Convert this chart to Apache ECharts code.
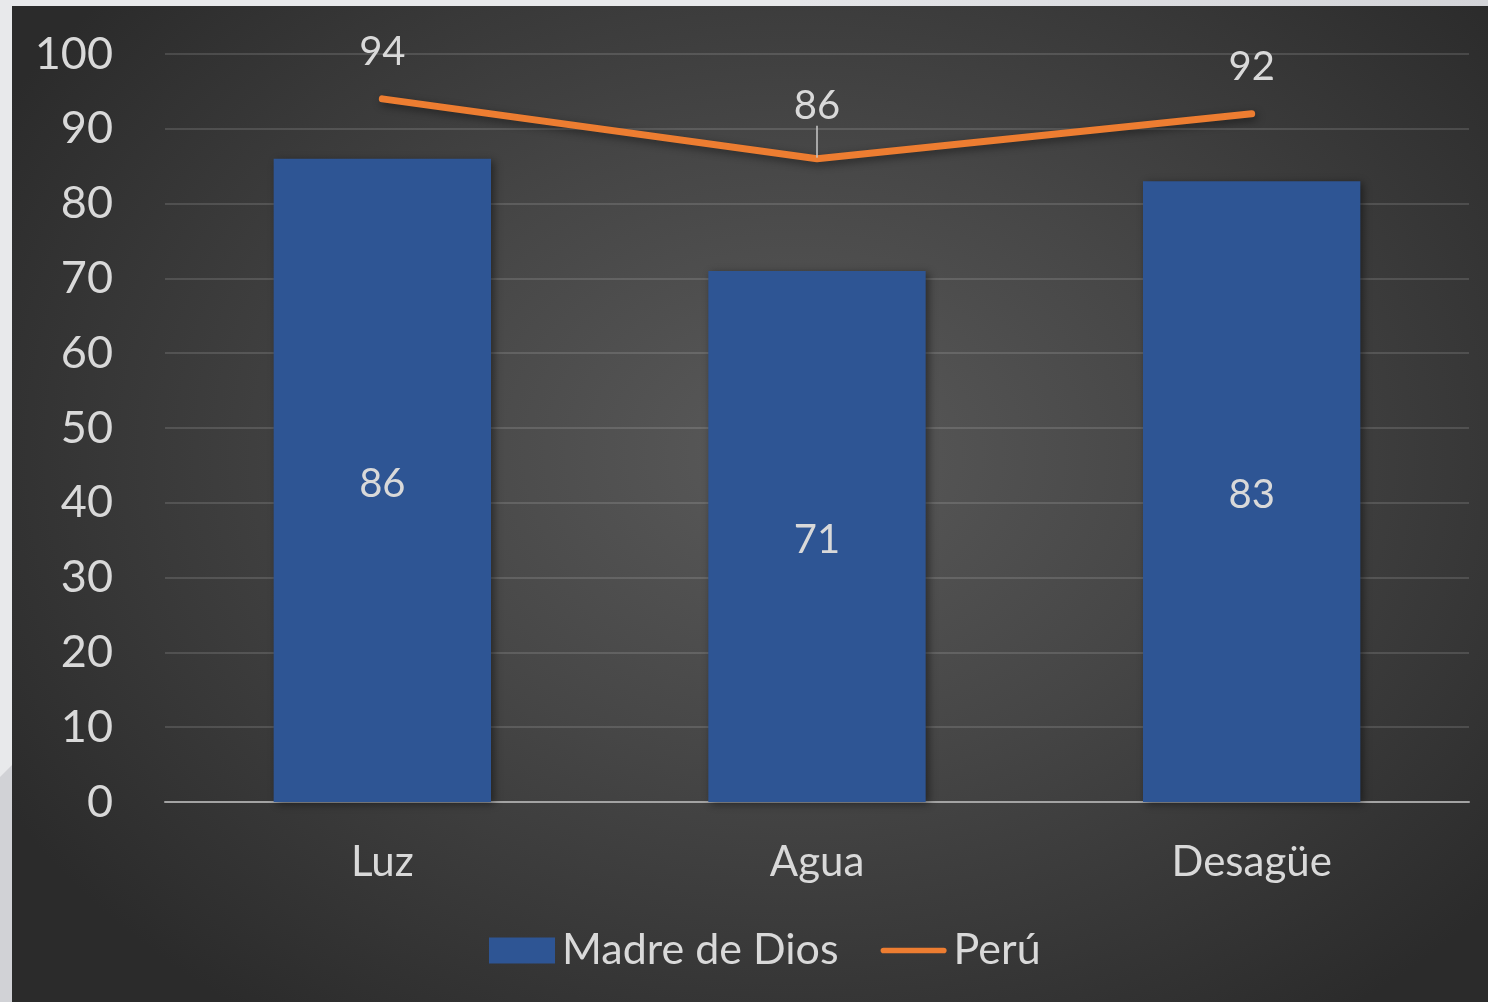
<!DOCTYPE html>
<html>
<head>
<meta charset="utf-8">
<script src="https://cdn.jsdelivr.net/npm/echarts@6/dist/echarts.min.js"></script>
<style>
  html, body { margin: 0; padding: 0; }
  body { width: 1488px; height: 1002px; background: #e8e9eb; position: relative; overflow: hidden; }
  #topRight { position: absolute; left: 800px; top: 0; width: 688px; height: 6px;
              background: linear-gradient(to right, #e4e5e8, #d3d4d8); }
  #leftLow { position: absolute; left: 0; top: 765px; width: 12px; height: 237px; background: #d1d2d6;
             clip-path: polygon(0 12px, 12px 0, 12px 100%, 0 100%); }
  #chart { position: absolute; left: 12px; top: 6px; width: 1476px; height: 996px;
           background: radial-gradient(ellipse 62% 70% at 53% 45%, #5a5a5a 0%, #464646 45%, #2b2b2b 100%); }
</style>
</head>
<body>
<div id="topRight"></div>
<div id="leftLow"></div>
<div id="chart"></div>
<script>
// Servicios básicos: Madre de Dios frente al promedio nacional (%)
const categories = ['Luz', 'Agua', 'Desagüe'];
const madreDeDios = [86, 71, 83];
const peru = [94, 86, 92];
const yTicks = { min: 0, max: 100, interval: 10 };

const FONT = 'Lato, "Open Sans", sans-serif';
const TEXT = '#d9d9d9';
const ORANGE = '#ed7d31';

// Perú labels: the middle one is lifted a little, with a leader line to its point
const peruData = peru.map((v, i) => i === 1
  ? { value: v, labelLine: { show: true, lineStyle: { color: '#c8c8c8', width: 1.5 } } }
  : v);

const chart = echarts.init(document.getElementById('chart'), null, { renderer: 'canvas' });
chart.setOption({
  backgroundColor: 'transparent',
  textStyle: { fontFamily: FONT },
  grid: { left: 153, right: 19, top: 48, bottom: 200 },
  legend: {
    bottom: 25,
    left: 472,
    itemWidth: 66,
    itemHeight: 26,
    itemGap: 42,
    textStyle: { color: TEXT, fontSize: 43, fontFamily: FONT, padding: [0, 0, 0, 2] },
    data: [
      { name: 'Madre de Dios', icon: 'rect' },
      { name: 'Perú', icon: 'path://M3,0 H67 A3,3 0 0 1 67,6 H3 A3,3 0 0 1 3,0 Z', itemStyle: { color: ORANGE } }
    ]
  },
  xAxis: {
    type: 'category',
    data: categories,
    axisLine: { lineStyle: { color: '#a3a3a3', width: 2 } },
    axisTick: { show: false },
    axisLabel: { color: TEXT, fontSize: 42, fontFamily: FONT, margin: 39 }
  },
  yAxis: {
    type: 'value',
    min: yTicks.min,
    max: yTicks.max,
    interval: yTicks.interval,
    axisLine: { show: false },
    axisTick: { show: false },
    axisLabel: { color: TEXT, fontSize: 45, fontFamily: FONT, margin: 52 },
    splitLine: { lineStyle: { color: 'rgba(255,255,255,0.13)', width: 2 } }
  },
  series: [
    {
      name: 'Madre de Dios',
      type: 'bar',
      data: madreDeDios,
      barWidth: '50%',
      itemStyle: {
        color: '#2e5594',
        shadowColor: 'rgba(0,0,0,0.45)',
        shadowBlur: 8,
        shadowOffsetX: 3,
        shadowOffsetY: 2
      },
      label: {
        show: true,
        position: 'inside',
        offset: [0, 4],
        color: TEXT,
        fontSize: 40,
        fontFamily: FONT
      },
      z: 2
    },
    {
      name: 'Perú',
      type: 'line',
      data: peruData,
      symbol: 'circle',
      symbolSize: 2,
      lineStyle: {
        color: ORANGE,
        width: 7,
        cap: 'round',
        join: 'round',
        shadowColor: 'rgba(0,0,0,0.45)',
        shadowBlur: 8,
        shadowOffsetX: 2,
        shadowOffsetY: 3
      },
      itemStyle: { color: ORANGE },
      label: {
        show: true,
        position: 'top',
        distance: 26,
        color: TEXT,
        fontSize: 40,
        fontFamily: FONT
      },
      labelLayout: (p) => (p.dataIndex === 1 ? { dy: -6 } : {}),
      z: 3
    }
  ]
});
</script>
</body>
</html>
